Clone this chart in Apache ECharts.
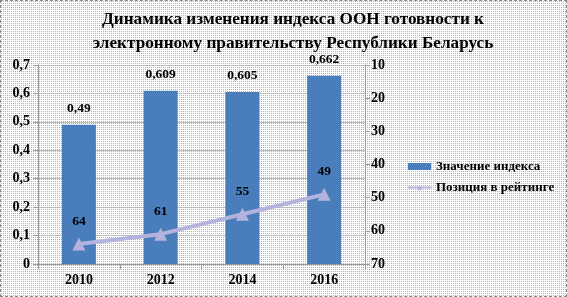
<!DOCTYPE html>
<html><head><meta charset="utf-8">
<script src="https://cdn.jsdelivr.net/npm/echarts@6/dist/echarts.min.js"></script>
<style>html,body{margin:0;padding:0;background:#fff}
#c{width:567px;height:297px;box-sizing:border-box;border:1px dashed #888;
background-color:#fff;background-image:url("data:image/svg+xml,%3Csvg xmlns='http://www.w3.org/2000/svg' width='2' height='2'%3E%3Crect width='1' height='1' fill='%23b0b0b0'/%3E%3C/svg%3E");background-size:2px 2px}</style>
</head><body><div id="c"></div>
<script>
const categories = ['2010','2012','2014','2016'];
const indexValues = [0.49, 0.609, 0.605, 0.662];
const rankValues = [64, 61, 55, 49];
const leftTicks = [0,0.1,0.2,0.3,0.4,0.5,0.6,0.7];
const rightTicks = [10,20,30,40,50,60,70];

const chart = echarts.init(document.getElementById('c'), null, {renderer:'canvas'});
const font = {fontFamily:'Liberation Serif', fontWeight:'bold', color:'#000', fontSize:14};
chart.setOption({
  backgroundColor:'transparent',
  animation:false,
  title:{text:'Динамика изменения индекса ООН готовности к\nэлектронному правительству Республики Беларусь',
    left:287, textAlign:'center', top:2,
    textStyle:{fontFamily:'Liberation Serif', fontWeight:'bold', fontSize:17.2, color:'#000', lineHeight:24}},
  legend:{orient:'vertical', left:401, top:154, itemGap:8, itemWidth:23, itemHeight:7,
    textStyle:Object.assign({}, font, {fontSize:13}),
    data:[{name:'Значение индекса', icon:'rect'},{name:'Позиция в рейтинге'}]},
  grid:{left:37, right:201, top:64, bottom:32},
  xAxis:{type:'category', data:categories,
    axisLine:{lineStyle:{color:'#999'}}, axisTick:{show:true, lineStyle:{color:'#999'}},
    axisLabel:Object.assign({}, font, {margin:9})},
  yAxis:[{type:'value', min:0, max:0.7, interval:0.1,
    axisLine:{show:true, lineStyle:{color:'#999'}}, axisTick:{show:true, lineStyle:{color:'#999'}},
    splitLine:{lineStyle:{color:'#bbb'}},
    axisLabel:Object.assign({}, font, {margin:8, formatter:v=>String(Math.round(v*10)/10).replace('.',',')})},
   {type:'value', min:10, max:70, interval:10, inverse:true, position:'right',
    axisLine:{show:true, lineStyle:{color:'#999'}}, axisTick:{show:true, lineStyle:{color:'#999'}},
    splitLine:{show:false},
    axisLabel:Object.assign({}, font, {margin:6})}],
  series:[
   {name:'Значение индекса', type:'bar', data:indexValues, barWidth:34, yAxisIndex:0,
    itemStyle:{color:'#4a7dbb'},
    label:{show:true, position:'top', distance:9, fontFamily:'Liberation Serif', fontWeight:'bold', fontSize:13.5, color:'#000',
      formatter:p=>String(p.value).replace('.',',')}},
   {name:'Позиция в рейтинге', type:'line', data:rankValues, yAxisIndex:1,
    lineStyle:{color:'#b3b3dd', width:4}, itemStyle:{color:'#b3b3dd'},
    symbol:'triangle', symbolSize:13,
    label:{show:true, position:'top', distance:9, fontFamily:'Liberation Serif', fontWeight:'bold', fontSize:13.5, color:'#000'}}
  ]
});
</script></body></html>
